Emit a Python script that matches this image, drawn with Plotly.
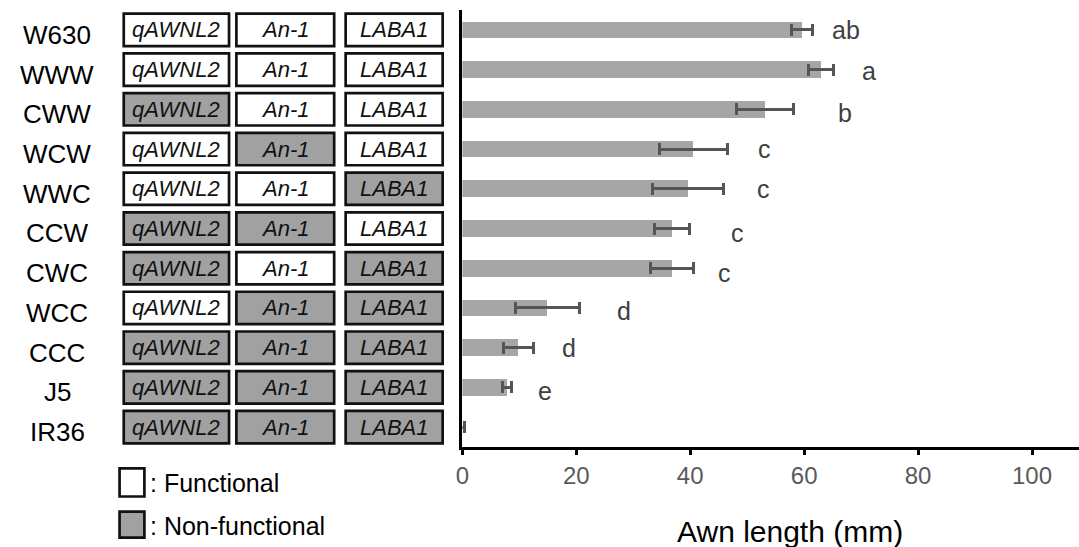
import plotly.graph_objects as go

# ---------------- data ----------------
genotypes = ["W630", "WWW", "CWW", "WCW", "WWC", "CCW", "CWC", "WCC", "CCC", "J5", "IR36"]
awn_length = [59.6, 63.0, 53.1, 40.6, 39.6, 36.8, 36.8, 14.9, 9.9, 7.9, 0.0]
awn_err = [1.9, 2.2, 5.0, 6.0, 6.2, 3.1, 3.8, 5.6, 2.6, 0.8, 0.3]
sig_letters = ["ab", "a", "b", "c", "c", "c", "c", "d", "d", "e", ""]
letter_x = [67.4, 71.3, 67.1, 53.1, 52.9, 48.3, 46.1, 28.3, 18.7, 14.6, 0]
genes = ["qAWNL2", "An-1", "LABA1"]
# 1 = functional (white), 0 = non-functional (gray)
functional = [
    [1, 1, 1],
    [1, 1, 1],
    [0, 1, 1],
    [1, 0, 1],
    [1, 1, 0],
    [0, 0, 1],
    [0, 1, 0],
    [1, 0, 0],
    [0, 0, 0],
    [0, 0, 0],
    [0, 0, 0],
]
legend_labels = [": Functional", ": Non-functional"]
x_ticks = [0, 20, 40, 60, 80, 100]
x_title = "Awn length (mm)"

# ---------------- style ----------------
W, H = 1079, 547
FONT = "Liberation Sans, Arial, Helvetica, sans-serif"
BAR_COLOR = "#a6a6a6"
BOX_GRAY = "#a1a1a1"
ERR_COLOR = "#555555"
col_widths = [0.967, 0.898, 0.891]
box_height = 0.815
letter_shift = [0, -1, -4, 0, 0, -5, -5, -3, 0, -4, 0]


def px_x(p):
    return p / W


def px_y(p):
    return 1 - p / H


plot_left = 458.3
plot_top = 10
plot_bottom = 447

fig = go.Figure()
fig.add_trace(
    go.Bar(
        x=awn_length,
        y=genotypes,
        orientation="h",
        width=0.42,
        marker=dict(color=BAR_COLOR, line=dict(width=0)),
        error_x=dict(type="data", array=awn_err, visible=True,
                     color=ERR_COLOR, thickness=3, width=6),
        xaxis="x",
        yaxis="y",
        showlegend=False,
        hoverinfo="x+y",
    )
)

shapes = []
annotations = []

# Genotype boxes (left panel, on hidden x2 axis in column units)
for i, g in enumerate(genotypes):
    for j, gene in enumerate(genes):
        hw = col_widths[j] / 2
        shapes.append(dict(
            type="rect", xref="x2", yref="y",
            x0=j - hw, x1=j + hw, y0=i - box_height / 2, y1=i + box_height / 2,
            line=dict(color="#111111", width=2.7),
            fillcolor="white" if functional[i][j] else BOX_GRAY,
            layer="above",
        ))
        annotations.append(dict(
            xref="x2", yref="y", x=j, y=g, text=f"<i>{gene}</i>",
            showarrow=False, xanchor="center", yanchor="middle",
            font=dict(family=FONT, size=22, color="#111111"),
        ))
    annotations.append(dict(
        xref="x2", yref="y", x=-1.095, y=g, text=g, showarrow=False,
        xanchor="center", yanchor="middle", yshift=-5,
        font=dict(family=FONT, size=26, color="#000000"),
    ))

# Significance letters
for i, g in enumerate(genotypes):
    if sig_letters[i]:
        annotations.append(dict(
            xref="x", yref="y", x=letter_x[i], y=g, text=sig_letters[i],
            showarrow=False, xanchor="center", yanchor="middle",
            yshift=letter_shift[i],
            font=dict(family=FONT, size=25, color="#404040"),
        ))

# Legend (manual)
legend_fill = ["white", BOX_GRAY]
legend_box_y = [(468.3, 496.5), (511.7, 537.7)]
legend_text_y = [483, 525.5]
for k, lab in enumerate(legend_labels):
    y0, y1 = legend_box_y[k]
    shapes.append(dict(
        type="rect", xref="paper", yref="paper",
        x0=px_x(113.3), x1=px_x(138.3), y0=px_y(y1), y1=px_y(y0),
        line=dict(color="#111111", width=2.7), fillcolor=legend_fill[k],
    ))
    annotations.append(dict(
        xref="paper", yref="paper", x=px_x(142), y=px_y(legend_text_y[k]),
        text=lab, showarrow=False, xanchor="left", yanchor="middle",
        font=dict(family=FONT, size=25, color="#000000"),
    ))

# X-axis title
annotations.append(dict(
    xref="paper", yref="paper", x=px_x(788), y=px_y(531), text=x_title,
    showarrow=False, xanchor="center", yanchor="middle",
    font=dict(family=FONT, size=30, color="#000000"),
))

col_center0 = 170.5
col_step = 109.6
x2_left, x2_right = 0, 440

fig.update_layout(
    width=W, height=H,
    margin=dict(l=0, r=0, t=0, b=0),
    paper_bgcolor="white", plot_bgcolor="white",
    font=dict(family=FONT),
    xaxis=dict(
        domain=[px_x(plot_left), 1.0],
        range=[0, (W - plot_left) / 5.734],
        tickvals=x_ticks, ticktext=[str(t) for t in x_ticks],
        ticks="outside", ticklen=5, tickwidth=2.5, tickcolor="#000000",
        showline=True, linecolor="#000000", linewidth=2.5,
        showgrid=False, zeroline=False,
        tickfont=dict(family=FONT, size=24, color="#5a5a5a"),
        ticklabelstandoff=0,
        anchor="y",
    ),
    yaxis=dict(
        domain=[px_y(plot_bottom), px_y(plot_top)],
        type="category", categoryorder="array", categoryarray=genotypes,
        range=[len(genotypes) - 0.5, -0.5],
        showticklabels=False, ticks="",
        showline=True, linecolor="#000000", linewidth=2.5,
        showgrid=False, zeroline=False,
        anchor="x",
    ),
    xaxis2=dict(
        domain=[px_x(x2_left), px_x(x2_right)],
        range=[(x2_left - col_center0) / col_step, (x2_right - col_center0) / col_step],
        visible=False, anchor="y",
    ),
    shapes=shapes,
    annotations=annotations,
    bargap=0,
)

fig.write_html("out.html")
